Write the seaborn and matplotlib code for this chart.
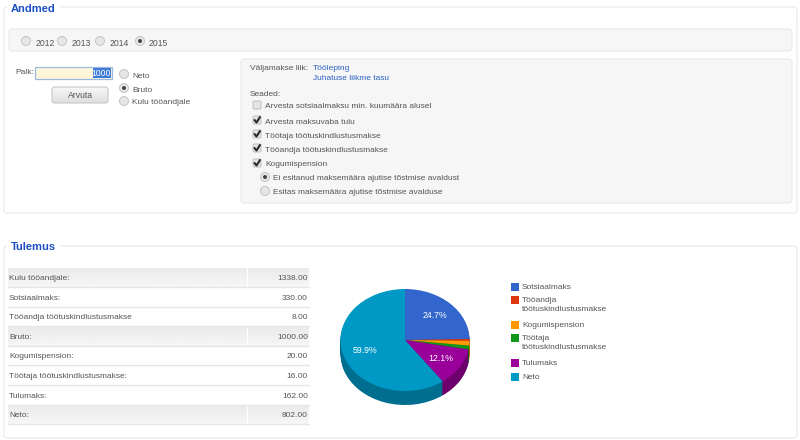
import numpy as np
import matplotlib
matplotlib.use("Agg")
import matplotlib.pyplot as plt
from matplotlib.patches import FancyBboxPatch, Rectangle, Circle
import seaborn as sns

# Data
years = ["2012", "2013", "2014", "2015"]
salary_types = ["Neto", "Bruto", "Kulu tööandjale"]
payment_types = ["Tööleping", "Juhatuse liikme tasu"]
settings = [
    "Arvesta sotsiaalmaksu min. kuumäära alusel",
    "Arvesta maksuvaba tulu",
    "Töötaja töötuskindlustusmakse",
    "Tööandja töötuskindlustusmakse",
    "Kogumispension",
]
settings_checked = [False, True, True, True, True]
pension_options = [
    "Ei esitanud maksemäära ajutise tõstmise avaldust",
    "Esitas maksemäära ajutise tõstmise avalduse",
]
table_labels = [
    "Kulu tööandjale:", "Sotsiaalmaks:", "Tööandja töötuskindlustusmakse",
    "Bruto:", "Kogumispension:", "Töötaja töötuskindlustusmakse:",
    "Tulumaks:", "Neto:",
]
table_values = [1338.00, 330.00, 8.00, 1000.00, 20.00, 16.00, 162.00, 802.00]
table_shaded = [True, False, False, True, False, False, False, True]

pie_labels = ["Sotsiaalmaks", "Tööandja\ntöötuskindlustusmakse", "Kogumispension",
              "Töötaja\ntöötuskindlustusmakse", "Tulumaks", "Neto"]
pie_values = [330, 8, 20, 16, 162, 802]
pie_colors = ["#3366cc", "#dc3912", "#ff9900", "#109618", "#990099", "#0099c6"]

TEXT = "#555555"
BLUE = "#1c4fc4"
LINK = "#2a62c4"
FS = 6.0

sns.set_theme(style="white")
plt.rcParams["font.family"] = ["Liberation Sans", "DejaVu Sans"]

fig = plt.figure(figsize=(8, 4.4), dpi=100)

# page drawn in pixel coordinates
ax = fig.add_axes([0, 0, 1, 1])
ax.axis("off")


def box(x0, y0, x1, y1, face="white", edge="#e8e8e8", r=3, z=1, lw=0.8):
    ax.add_patch(FancyBboxPatch((x0, y0), x1 - x0, y1 - y0,
                                boxstyle=f"round,pad=0,rounding_size={r}",
                                fc=face, ec=edge, lw=lw, zorder=z))


def radio(x, y, selected=False):
    ax.add_patch(Circle((x, y), 4.5, fc="#e6e6e6", ec="#c4c4c4", lw=0.7, zorder=3))
    if selected:
        ax.add_patch(Circle((x, y), 2.0, fc="#444444", ec="none", zorder=4))


def checkbox(x, y, checked):
    box(x - 4, y - 4, x + 4, y + 4, face="#e4e4e4", edge="#c4c4c4", r=1.5, z=3)
    if checked:
        ax.plot([x - 2.5, x - 0.5, x + 3], [y, y + 2.5, y - 3], color="#2a2a2a",
                lw=1.5, zorder=4)


def label(x, y, s, color=TEXT, size=FS, **kw):
    ax.text(x, y, s, color=color, fontsize=size, va="center", zorder=5, **kw)


def gradient(x0, y0, x1, y1, top=0.92, bottom=0.965):
    ax.imshow(np.linspace(top, bottom, 16).reshape(-1, 1), cmap="gray", vmin=0, vmax=1,
              extent=(x0, x1, y1, y0), aspect="auto", zorder=2)


def fieldset(y0, y1, title):
    box(4, y0, 797, y1, z=1)
    ax.text(11, y0 + 1.5, title, color=BLUE, fontsize=8.0, fontweight="bold", va="center",
            zorder=5, bbox=dict(fc="white", ec="none", pad=3))


# Andmed
fieldset(7, 213, "Andmed")
box(9, 29, 792, 51, face="#f6f6f6", edge="#e8e8e8")
for x_radio, x_text, year, sel in zip([26, 62, 100, 140], [36, 72, 110, 149], years,
                                      [False, False, False, True]):
    radio(x_radio, 41, sel)
    label(x_text, 43, year, size=6.2)

label(15, 73, "Palk:")
ax.add_patch(Rectangle((35, 67), 77, 12, fc="#fdf6d8", ec="#9db9e6", lw=0.9, zorder=3))
ax.add_patch(Rectangle((93, 68), 18, 10, fc="#3f7cd8", ec="none", zorder=4))
label(111, 73, "1000", color="white", ha="right", size=6.2)
gradient(52, 87, 108, 103, 0.97, 0.87)
box(52, 87, 108, 103, face="none", edge="#c8c8c8", z=3)
label(80, 95, "Arvuta", ha="center", size=6.2)
for y, s, sel in zip([74, 88, 101], salary_types, [False, True, False]):
    radio(124, y, sel)
    label(132, y + 2, s)

box(241, 59, 792, 203, face="#f6f6f6", edge="#e8e8e8")
label(250, 68, "Väljamakse liik:")
for y, s in zip([68, 78], payment_types):
    label(313, y, s, color=LINK)
label(250, 94, "Seaded:")
for y, s, chk in zip([105, 120, 134, 148, 163], settings, settings_checked):
    checkbox(257, y, chk)
    label(265, y + 2, s)
for y, s, sel in zip([177, 191], pension_options, [True, False]):
    radio(265, y, sel)
    label(273, y + 2, s)

# Tulemus
fieldset(246, 438, "Tulemus")
row_h = 19.6
for i, (name, val, shaded) in enumerate(zip(table_labels, table_values, table_shaded)):
    top = 268 + i * row_h
    if shaded:
        gradient(8, top, 247, top + row_h - 0.6)
        gradient(248, top, 309, top + row_h - 0.6)
    ax.plot([8, 247], [top + row_h - 0.5] * 2, color="#e6e6e6", lw=1.0, zorder=3)
    ax.plot([248, 309], [top + row_h - 0.5] * 2, color="#e6e6e6", lw=1.0, zorder=3)
    label(9, top + row_h / 2 + 0.8, name)
    label(308, top + row_h / 2 + 0.8, f"{val:.2f}", ha="right")

# legend by hand: the swatch sits on the first line of a wrapped label
for y, s, col in zip([287, 300, 325, 338, 363, 377], pie_labels, pie_colors):
    ax.add_patch(Rectangle((511, y - 4), 8, 8, fc=col, ec="none", zorder=3))
    ax.text(522, y - 3.2, s, color=TEXT, fontsize=FS, va="top", linespacing=1.45, zorder=5)

ax.set_xlim(0, 800)
ax.set_ylim(440, 0)

# Pie with a fake 3D rim: darker copies stacked under the top surface
rx, ry, depth = 64.5, 51.0, 14
cx, cy = 405, 340
left, right, top_px, bottom_px = 330, 480, 280, 415
pie_ax = fig.add_axes([left / 800, 1 - bottom_px / 440, (right - left) / 800,
                       (bottom_px - top_px) / 440])
dark_colors = [tuple(c * 0.72 for c in matplotlib.colors.to_rgb(col)) for col in pie_colors]
for k in range(depth, 0, -1):
    pie_ax.pie(pie_values, colors=dark_colors, startangle=90, counterclock=False,
               center=(0, -k / ry), wedgeprops=dict(lw=0))
wedges, _, pct_texts = pie_ax.pie(
    pie_values, colors=sns.color_palette(pie_colors), startangle=90, counterclock=False,
    autopct=lambda p: f"{p:.1f}%" if p > 5 else "", pctdistance=0.66,
    wedgeprops=dict(lw=0), textprops=dict(color="white", fontsize=6.3),
)
pie_ax.set_aspect("auto")
pie_ax.set_xlim((left - cx) / rx, (right - cx) / rx)
pie_ax.set_ylim((cy - bottom_px) / ry, (cy - top_px) / ry)
pie_ax.patch.set_alpha(0)

fig.savefig("out.png", dpi=100)
